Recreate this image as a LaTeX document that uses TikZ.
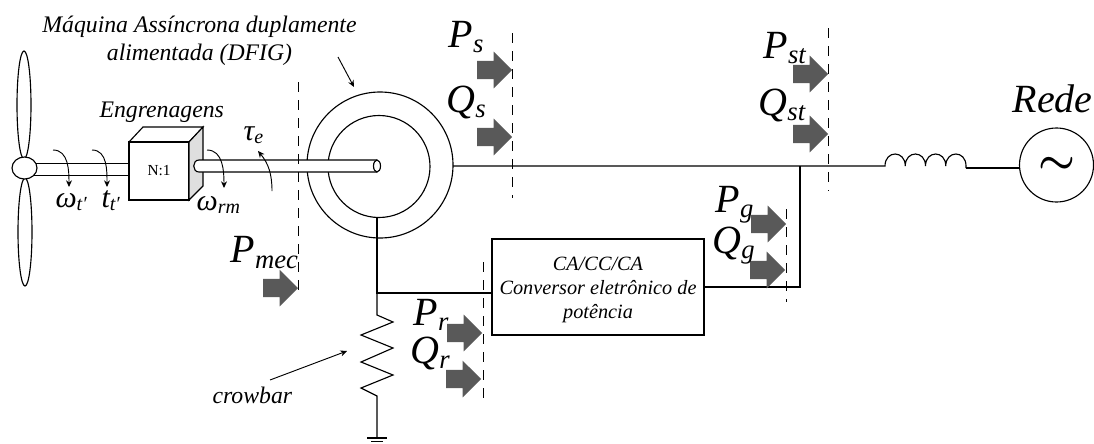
\documentclass[tikz,border=0pt]{standalone}
\usepackage{fontspec}
\setmainfont{Liberation Serif}
\usetikzlibrary{shapes.geometric, shapes.arrows, arrows.meta}

% Grandeza com indice: letra, indice e descida do indice
\newcommand{\sinal}[3][3.75pt]{#2\raisebox{-#1}{\fontsize{20}{20}\selectfont #3}}
\newcommand{\sinalp}[3][2.25pt]{#2\raisebox{-#1}{\fontsize{15}{15}\selectfont #3}}

\begin{document}
\begin{tikzpicture}[
    x=0.75pt,
    y=-0.75pt,
    >=stealth,
    line width=0.85pt,
    % Estilos dos elementos
    pa/.style={ellipse, draw, inner sep=0pt, outer sep=0pt, minimum width=10.5pt, minimum height=81pt},
    maquina/.style={circle, draw, inner sep=0pt, outer sep=0pt},
    corte/.style={line width=0.7pt, dash pattern=on 7.5pt off 6pt},
    potencia/.style={single arrow, fill=seta, inner xsep=0pt, inner ysep=6.4pt, outer sep=0pt,
        single arrow head extend=7pt, minimum height=26.25pt, anchor=tip},
    grandeza/.style={anchor=base west, inner sep=0pt, font=\fontsize{30}{30}\selectfont\itshape},
    giro/.style={anchor=base west, inner sep=0pt, font=\fontsize{22.5}{22.5}\selectfont\itshape},
    rotulo/.style={inner sep=0pt, align=center, font=\fontsize{17.8}{21}\selectfont\itshape},
    curva/.style={-{Stealth[length=5pt, width=4.5pt]}, line width=0.7pt},
]
    \definecolor{seta}{HTML}{595959}
    \useasboundingbox (0,0) rectangle (1094,443);

    % Turbina
    \node[pa] (pa1) at (24,105) {};
    \node[pa] (pa2) at (25,232) {};
    \node[ellipse, draw, fill=white, inner sep=0pt, outer sep=0pt, minimum width=18.75pt, minimum height=16.5pt] (cubo) at (24.5,168) {};

    % Engrenagens
    \node[draw, outer sep=0pt, minimum width=45pt, minimum height=43.5pt, font=\fontsize{11.5}{11.5}\selectfont] (caixa) at (159,171) {N:1};
    \draw (caixa.north west) -- ++(14,-15) -- ++(60,0) -- (caixa.north east);
    \draw[fill=gray!25] (caixa.north east) -- ++(14,-15) -- ++(0,59) -- (caixa.south east) -- cycle;
    \draw (cubo.21) -- (cubo.21 -| caixa.west);
    \draw (cubo.-38) -- (cubo.-38 -| caixa.west);

    % Maquina e eixo
    \node[maquina, minimum size=109.5pt] (estator) at (380,165) {};
    \node[maquina, minimum size=76.5pt] (rotor) at (379,166.5) {};
    \coordinate (eixoA) at (377,160);
    \coordinate (eixoB) at (377,172);
    \draw[fill=white] (eixoA) -- (199,160) .. controls (192,160) and (192,172) .. (199,172) -- (eixoB);
    \node[ellipse, draw, fill=white, inner sep=0pt, outer sep=0pt, minimum width=5.25pt, minimum height=9pt] (ponta) at (377,166) {};

    % Rede
    \coordinate (bobinaA) at (885,166);
    \coordinate (bobinaB) at (966,168);
    \coordinate (deriva) at (800,166);
    \node[maquina, minimum size=55.5pt, inner sep=0pt] (rede) at (1056.5,165) {\scalebox{3.1}{\boldmath$\sim$}};
    \draw (estator.east |- bobinaA) -- (bobinaA)
        foreach \i in {1,...,4} { .. controls +(0,-16) and +(0,-16) .. ++(20.25,0) } -- (bobinaB);
    \draw (bobinaB) -- (bobinaB -| rede.west);

    % Conversor
    \node[draw, outer sep=0pt, minimum width=159pt, minimum height=72pt, align=center,
        font=\fontsize{15.2}{18}\selectfont\itshape] (conv) at (598,287)
        {\rule{0pt}{15pt}CA/CC/CA\\Conversor eletrônico de\\potência};
    \coordinate (no) at (377,293);
    \draw (no |- rotor.south) -- (no) -- (no -| conv.west);
    \draw (conv.east) -| (deriva);

    % Crowbar
    \coordinate (resA) at (377,315);
    \coordinate (resB) at (377,396);
    \coordinate (terra) at (377,438);
    \draw (no) -- (resA) -- ++(16,7) -- ++(-32,13) -- ++(32,13) -- ++(-32,14) -- ++(32,13) -- ++(-32,13) -- (resB) -- (terra);
    \draw (terra) ++(-10,0) -- ++(20,0);
    \draw (terra) ++(-6,3.5) -- ++(12,0);

    % Linhas de corte
    \foreach \x/\a/\b in {298/82/298, 512/33/198, 828/28/191, 786/209/302, 483/262/405}
        \draw[corte] (\x,\a) -- (\x,\b);

    % Setas de potencia
    \node[potencia] (sPmec) at (298,288) {};
    \node[potencia] (sPs) at (512,70) {};
    \node[potencia] (sQs) at (512,137) {};
    \node[potencia] (sPst) at (828,74) {};
    \node[potencia] (sQst) at (828,134) {};
    \node[potencia] (sPg) at (786,224) {};
    \node[potencia] (sQg) at (785,270) {};
    \node[potencia] (sPr) at (482,333) {};
    \node[potencia] (sQr) at (481,379) {};

    % Grandezas
    \node[grandeza] (lPmec) at (230,262) {\sinal[4.5pt]{P}{mec}};
    \node[grandeza] (lPs) at (448,47) {\sinal{P}{s}};
    \node[grandeza] (lQs) at (446,112) {\sinal{Q}{s}};
    \node[grandeza] (lPst) at (763,58) {\sinal{P}{st}};
    \node[grandeza] (lQst) at (758,115) {\sinal{Q}{st}};
    \node[grandeza] (lPg) at (715,212) {\sinal{P}{g}};
    \node[grandeza] (lQg) at (712,253) {\sinal{Q}{g}};
    \node[grandeza] (lPr) at (413,325) {\sinal{P}{r}};
    \node[grandeza] (lQr) at (410,363) {\sinal{Q}{r}};
    \node[grandeza] (lRede) at (1012,112) {Rede};
    \node[giro] (lw1) at (55,207) {\sinalp{ω}{t′}};
    \node[giro] (lt1) at (101,207) {\sinalp{t}{t′}};
    \node[giro] (lwr) at (196,210) {\sinalp{ω}{rm}};
    \node[giro] (lte) at (243,140) {\sinalp{τ}{e}};

    % Setas curvas
    \coordinate (c1a) at (53,150);
    \coordinate (c1b) at (69,187);
    \coordinate (c2a) at (92,150);
    \coordinate (c2b) at (107,187);
    \coordinate (c3a) at (207,150);
    \coordinate (c3b) at (224,188);
    \coordinate (c4a) at (272,191);
    \coordinate (c4b) at (258,151);
    \draw[curva] (c1a) to[out=0, in=90] (c1b);
    \draw[curva] (c2a) to[out=0, in=90] (c2b);
    \draw[curva] (c3a) to[out=0, in=90] (c3b);
    \draw[curva] (c4a) to[out=90, in=-50] (c4b);

    % Rotulos
    \node[rotulo, anchor=base] (lDfig) at (199.5,60) {Máquina Assíncrona duplamente\\alimentada (DFIG)};
    \node[rotulo, anchor=base west] (lEng) at (99,117) {Engrenagens};
    \node[rotulo, anchor=base west] (lCrow) at (212,403) {crowbar};
    \coordinate (pDfig) at (338,57);
    \coordinate (pCrow) at (270,380);
    \coordinate (aDfig) at (354,87);
    \coordinate (aCrow) at (347,351);
    \draw[curva] (pDfig) -- (aDfig);
    \draw[curva] (pCrow) -- (aCrow);

\end{tikzpicture}
\end{document}
